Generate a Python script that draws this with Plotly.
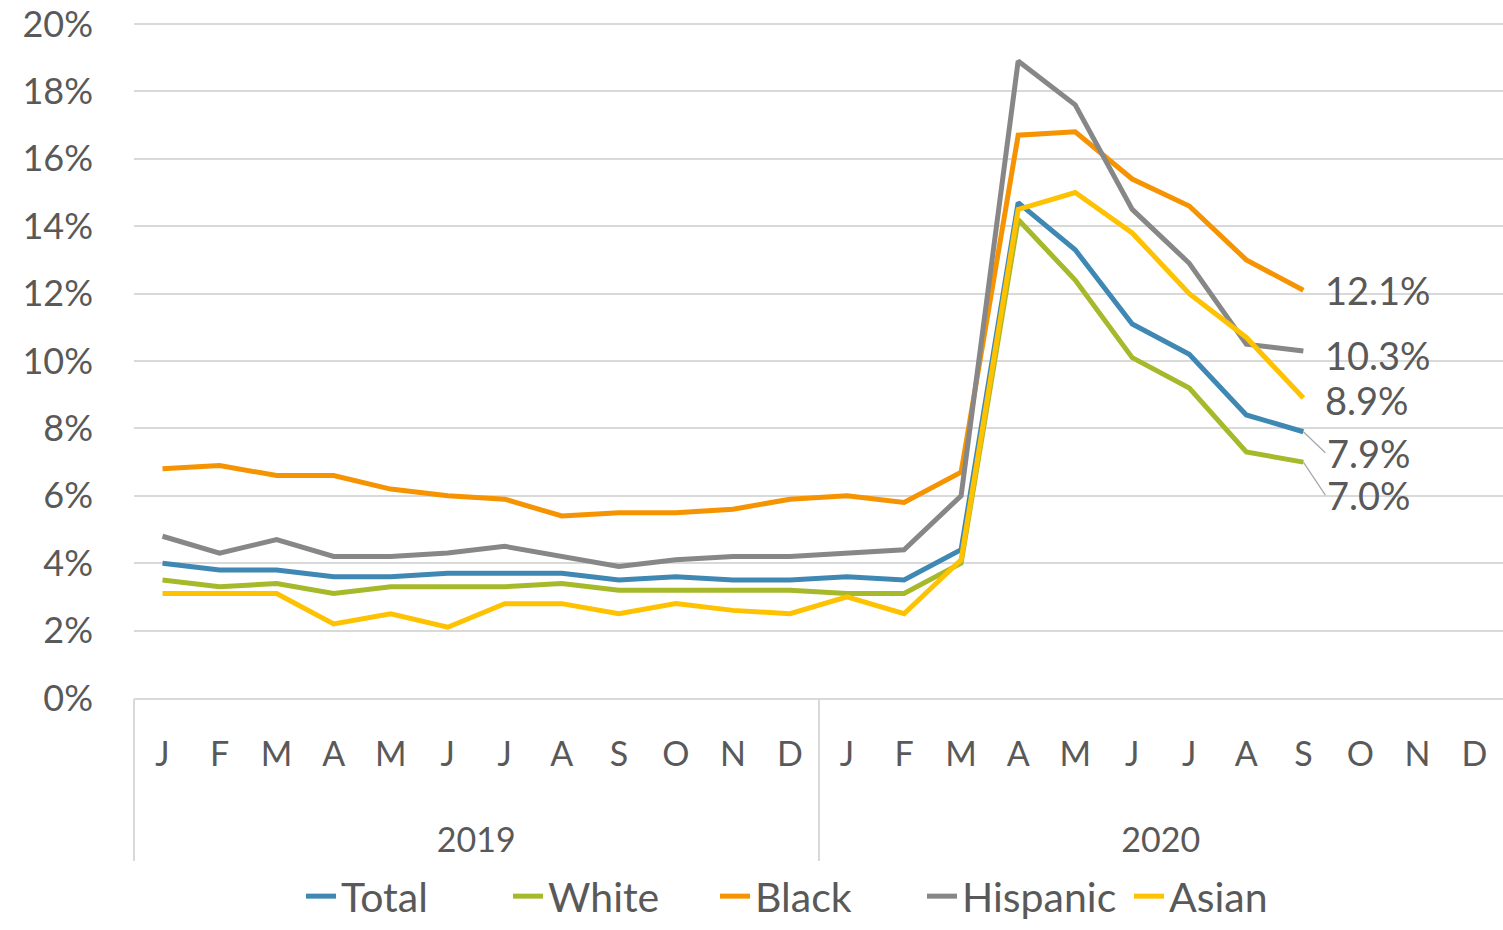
import plotly.graph_objects as go

months = ["J", "F", "M", "A", "M", "J", "J", "A", "S", "O", "N", "D"]
years = ["2019", "2020"]
y_ticks = [0, 2, 4, 6, 8, 10, 12, 14, 16, 18, 20]

total = [4.0, 3.8, 3.8, 3.6, 3.6, 3.7, 3.7, 3.7, 3.5, 3.6, 3.5, 3.5,
         3.6, 3.5, 4.4, 14.7, 13.3, 11.1, 10.2, 8.4, 7.9, None, None, None]
white = [3.5, 3.3, 3.4, 3.1, 3.3, 3.3, 3.3, 3.4, 3.2, 3.2, 3.2, 3.2,
         3.1, 3.1, 4.0, 14.2, 12.4, 10.1, 9.2, 7.3, 7.0, None, None, None]
black = [6.8, 6.9, 6.6, 6.6, 6.2, 6.0, 5.9, 5.4, 5.5, 5.5, 5.6, 5.9,
         6.0, 5.8, 6.7, 16.7, 16.8, 15.4, 14.6, 13.0, 12.1, None, None, None]
hispanic = [4.8, 4.3, 4.7, 4.2, 4.2, 4.3, 4.5, 4.2, 3.9, 4.1, 4.2, 4.2,
            4.3, 4.4, 6.0, 18.9, 17.6, 14.5, 12.9, 10.5, 10.3, None, None, None]
asian = [3.1, 3.1, 3.1, 2.2, 2.5, 2.1, 2.8, 2.8, 2.5, 2.8, 2.6, 2.5,
         3.0, 2.5, 4.1, 14.5, 15.0, 13.8, 12.0, 10.7, 8.9, None, None, None]

series = [("Total", total, "#3F88B3"), ("White", white, "#A6B92B"),
          ("Black", black, "#F59300"), ("Hispanic", hispanic, "#878787"),
          ("Asian", asian, "#FEC200")]

n = len(months) * len(years)
idx = list(range(n))
month_labels = months * len(years)
year_centers = [i * len(months) + (len(months) - 1) / 2 for i in range(len(years))]
year_bounds = [i * len(months) - 0.5 for i in range(len(years))]

FONT = "Lato"
TXT = "#595959"
GRID = "#D9D9D9"

fig = go.Figure()
for name, vals, col in series:
    fig.add_trace(go.Scatter(x=idx, y=vals, name=name, mode="lines",
                             line=dict(color=col, width=5), connectgaps=False))
# invisible trace to activate year axis
fig.add_trace(go.Scatter(x=idx, y=[None] * n, xaxis="x2", showlegend=False,
                         hoverinfo="skip"))

# end labels
last_idx = 20
end_labels = [(black, 0, False), (hispanic, -4, False), (asian, -2, False),
              (total, 21, True), (white, 33, True)]
for vals, dy, leader in end_labels:
    v = vals[last_idx]
    if leader:
        fig.add_annotation(x=last_idx, y=v, xref="x", yref="y", text=f"{v:.1f}%",
                           showarrow=True, arrowhead=0, arrowwidth=1.2, arrowcolor="#A6A6A6",
                           ax=22, ay=dy, xanchor="left", yanchor="middle",
                           font=dict(family=FONT, size=38, color=TXT))
    else:
        fig.add_annotation(x=last_idx, y=v, xref="x", yref="y", text=f"{v:.1f}%",
                           showarrow=False, xanchor="left", yanchor="middle",
                           xshift=20, yshift=dy,
                           font=dict(family=FONT, size=38, color=TXT))

W, H = 1503, 930
ML, MT, MB = 134, 23, 232
plot_h = H - MT - MB

fig.update_layout(
    width=W, height=H,
    margin=dict(l=ML, r=0, t=MT, b=MB),
    plot_bgcolor="white", paper_bgcolor="white",
    font=dict(family=FONT, color=TXT),
    showlegend=True,
    legend=dict(orientation="h", x=0.5, xanchor="center", y=-MB / plot_h, yanchor="bottom",
                font=dict(family=FONT, size=41, color=TXT), tracegroupgap=0,
                entrywidth=162, entrywidthmode="pixels"),
    xaxis=dict(range=[-0.5, n - 0.5], tickmode="array", tickvals=idx, ticktext=month_labels,
               showgrid=False, showline=True, linecolor=GRID, linewidth=1.5,
               tickfont=dict(family=FONT, size=34, color=TXT), ticks="",
               ticklabelstandoff=25, zeroline=False, fixedrange=True, automargin=False),
    xaxis2=dict(overlaying="x", anchor="y", side="bottom", range=[-0.5, n - 0.5],
                tickmode="array", tickvals=year_centers, ticktext=years,
                ticks="", showgrid=False, showline=False, zeroline=False,
                tickfont=dict(family=FONT, size=34, color=TXT), ticklabelstandoff=119,
                automargin=False,
                minor=dict(tickmode="array", tickvals=year_bounds, ticks="outside",
                           ticklen=162, tickcolor=GRID, tickwidth=1.5, showgrid=False)),
    yaxis=dict(range=[0, 20.03], tickmode="array", tickvals=y_ticks,
               ticktext=[f"{t}%" for t in y_ticks], showgrid=True,
               gridcolor=GRID, gridwidth=1.5, zeroline=False,
               tickfont=dict(family=FONT, size=36, color=TXT), ticklabelstandoff=40,
               fixedrange=True, automargin=False),
)

fig.write_html("out.html", config={"displayModeBar": False},
               post_script="document.body.style.margin='0';document.body.style.overflow='hidden';")
